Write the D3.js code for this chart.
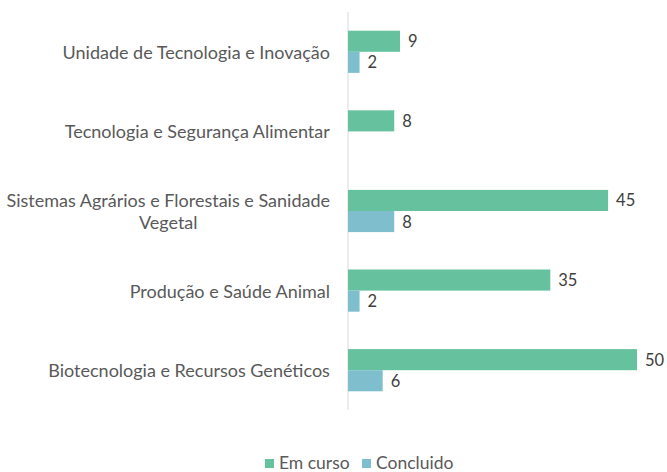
<!DOCTYPE html>
<html>
<head>
<meta charset="utf-8">
<script src="https://cdn.jsdelivr.net/npm/d3@7"></script>
<style>
  body { margin: 0; background: #fff; }
  svg { display: block; font-family: Lato, "Open Sans", sans-serif; }
</style>
</head>
<body>
<svg width="667" height="472"></svg>
<script>
var WIDTH = 667
var HEIGHT = 472

// data, top to bottom
var categories = [
    ["Unidade de Tecnologia e Inovação"],
    ["Tecnologia e Segurança Alimentar"],
    ["Sistemas Agrários e Florestais e Sanidade", "Vegetal"],
    ["Produção e Saúde Animal"],
    ["Biotecnologia e Recursos Genéticos"]
];
var emCurso = [9, 8, 45, 35, 50];
var concluido = [2, null, 8, 2, 6];
var seriesNames = ["Em curso", "Concluido"];
var seriesColors = ["#66c29e", "#7fbfcd"];

var svg = d3.select("svg");

var plotLeft = 348, plotRight = 637, plotTop = 12, plotBottom = 410;

var x = d3.scaleLinear()
    .domain([0, 50])
    .range([plotLeft, plotRight]);

var y = d3.scaleBand()
    .domain(d3.range(categories.length))
    .range([plotTop, plotBottom])
    .paddingInner(0.47)
    .paddingOuter(0.235);

var inner = d3.scaleBand()
    .domain([0, 1])
    .range([0, y.bandwidth()]);

// axis line
svg.append("line")
    .attr("x1", plotLeft).attr("x2", plotLeft)
    .attr("y1", plotTop).attr("y2", plotBottom)
    .style("stroke", "#d9d9d9")
    .style("stroke-width", 1);

var series = [emCurso, concluido];

series.forEach(function (vals, s) {
    var g = svg.append("g");
    vals.forEach(function (v, i) {
        if (v == null) return;
        var by = y(i) + inner(s);
        g.append("rect")
            .attr("x", plotLeft)
            .attr("y", by)
            .attr("width", x(v) - plotLeft)
            .attr("height", inner.bandwidth())
            .style("fill", seriesColors[s]);
        g.append("text")
            .attr("x", x(v) + 8)
            .attr("y", by + inner.bandwidth() / 2)
            .attr("dominant-baseline", "central")
            .style("font-size", "16.5px")
            .style("fill", "#404040")
            .text(v);
    });
});

// category labels, right aligned block, lines centered
categories.forEach(function (lines, i) {
    var cy = y(i) + y.bandwidth() / 2;
    var t = svg.append("text")
        .style("font-size", "18px")
        .style("fill", "#595959")
        .attr("text-anchor", "middle");
    var lh = 22;
    lines.forEach(function (ln, j) {
        t.append("tspan")
            .attr("x", 0)
            .attr("y", cy + (j - (lines.length - 1) / 2) * lh)
            .attr("dominant-baseline", "central")
            .text(ln);
    });
    var w = t.node().getBBox().width;
    t.selectAll("tspan").attr("x", 330 - w / 2);
});

// legend
var legend = svg.append("g");
var lx = [265, 362];
seriesNames.forEach(function (name, s) {
    legend.append("rect")
        .attr("x", lx[s]).attr("y", 459)
        .attr("width", 9).attr("height", 9)
        .style("fill", seriesColors[s]);
    legend.append("text")
        .attr("x", lx[s] + 14).attr("y", 462.5)
        .attr("dominant-baseline", "central")
        .style("font-size", "17.5px")
        .style("fill", "#595959")
        .text(name);
});
</script>
</body>
</html>
